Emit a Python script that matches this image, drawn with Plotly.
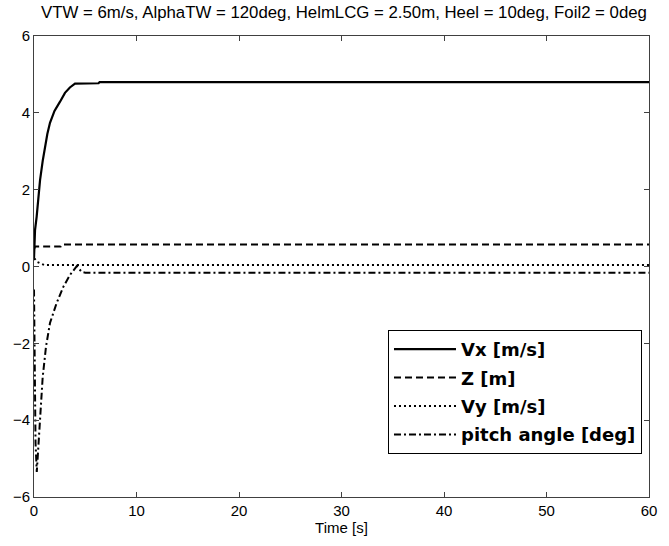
import plotly.graph_objects as go

# Time samples and series values
t_vx = [0, 0.03, 0.1, 0.26, 0.59, 0.85, 1.07, 1.3, 1.56, 2.0, 2.54, 3.02, 3.5, 4.0, 6.3, 6.4, 60]
vx = [0.2, 0.6, 0.95, 1.3, 2.25, 2.75, 3.11, 3.45, 3.74, 4.05, 4.29, 4.52, 4.66, 4.76, 4.77, 4.80, 4.80]

t_z = [0, 0.1, 2.6, 2.7, 60]
z = [0.45, 0.52, 0.52, 0.57, 0.57]

t_vy = [0, 0.1, 0.3, 0.6, 1.0, 60]
vy = [0.2, 0.19, 0.12, 0.08, 0.04, 0.04]

t_pitch = [0, 0.05, 0.15, 0.27, 0.59, 0.85, 1.17, 1.56, 2.21, 2.86, 3.51, 4.17, 4.65, 5.0, 60]
pitch = [-0.6, -2.5, -4.6, -5.35, -4.08, -2.87, -2.09, -1.47, -0.95, -0.53, -0.22, 0.01, -0.14, -0.16, -0.16]

x_ticks = [0, 10, 20, 30, 40, 50, 60]
y_ticks = [-6, -4, -2, 0, 2, 4, 6]

title_text = "VTW = 6m/s, AlphaTW = 120deg, HelmLCG = 2.50m, Heel = 10deg, Foil2 = 0deg"

fig = go.Figure()
fig.add_trace(go.Scatter(x=t_vx, y=vx, mode="lines", name="Vx [m/s]", legendgroup="a",
                         line=dict(color="black", width=2.2)))
fig.add_trace(go.Scatter(x=t_z, y=z, mode="lines", name="Z [m]", legendgroup="b",
                         line=dict(color="black", width=2, dash="7px,4px")))
fig.add_trace(go.Scatter(x=t_vy, y=vy, mode="lines", name="Vy [m/s]", legendgroup="c",
                         line=dict(color="black", width=2, dash="2px,3px")))
fig.add_trace(go.Scatter(x=t_pitch, y=pitch, mode="lines", name="pitch angle [deg]", legendgroup="d",
                         line=dict(color="black", width=2, dash="7px,3px,2px,3px")))

font_fam = "Liberation Sans, Arial"
axis_common = dict(showline=True, linecolor="#404040", linewidth=1, mirror="ticks",
                   ticks="inside", ticklen=5, tickcolor="#404040", showgrid=False,
                   zeroline=False, automargin=False,
                   tickfont=dict(family=font_fam, size=15, color="black"))

fig.update_layout(
    width=669, height=546,
    margin=dict(l=34, r=20, t=36, b=49),
    paper_bgcolor="white", plot_bgcolor="white",
    title=dict(text=title_text, x=344 / 669, xanchor="center", y=1 - 12 / 546, yanchor="middle",
               font=dict(family=font_fam, size=16.8, color="black")),
    xaxis=dict(range=[0, 60], tickvals=x_ticks, title=dict(text="Time [s]", standoff=4,
               font=dict(family=font_fam, size=15, color="black")), **axis_common),
    yaxis=dict(range=[-6, 6], tickvals=y_ticks, **axis_common),
    legend=dict(x=0.5756, y=0.3623, xanchor="left", yanchor="top",
                bgcolor="white", bordercolor="black", borderwidth=1,
                font=dict(family="DejaVu Sans", size=18, color="black", weight="bold"),
                tracegroupgap=2, itemwidth=62),
    showlegend=True,
)

fig.write_html("out.html", config={"displayModeBar": False},
               post_script="document.body.style.margin='0';")
